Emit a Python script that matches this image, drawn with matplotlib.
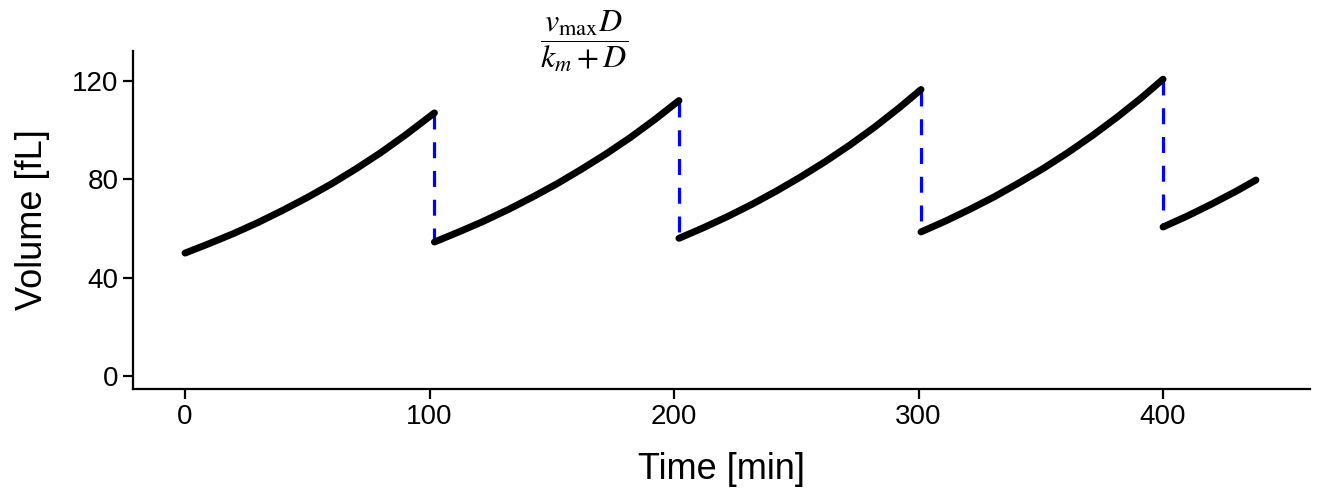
import numpy as np
import matplotlib.pyplot as plt

plt.rcParams['font.family'] = ['Liberation Sans', 'DejaVu Sans']
plt.rcParams['mathtext.fontset'] = 'stix'

# volume trajectory, one list per cell cycle
seg_times = [
    [0, 10, 20, 30, 40, 50, 60, 70, 80, 90, 102],
    [102, 112, 122, 132, 142, 152, 162, 172, 182, 192, 202],
    [202, 212, 222, 232, 242, 252, 262, 272, 282, 292, 301],
    [301, 311, 321, 331, 341, 351, 361, 371, 381, 391, 400],
    [400, 410, 420, 430, 438],
]
seg_volumes = [
    [50.0, 53.9, 58.0, 62.5, 67.4, 72.6, 78.2, 84.3, 90.8, 97.9, 107.0],
    [54.5, 58.6, 62.9, 67.6, 72.7, 78.1, 84.0, 90.2, 96.9, 104.2, 112.0],
    [56.0, 60.3, 64.9, 69.9, 75.3, 81.1, 87.3, 94.0, 101.2, 109.0, 116.5],
    [58.6, 63.0, 67.8, 72.9, 78.5, 84.4, 90.8, 97.7, 105.1, 113.0, 120.7],
    [60.6, 65.1, 70.0, 75.2, 79.7],
]
yticks = [0, 40, 80, 120]
xticks = [0, 100, 200, 300, 400]
title_x = 163


def main():
    fig = plt.figure(figsize=(13.19, 5.04), dpi=100)
    ax = fig.add_axes([0.1008, 0.228, 0.8922, 0.671])

    for t, v in zip(seg_times, seg_volumes):
        ax.plot(t, v, color='black', lw=5, solid_capstyle='round',
                solid_joinstyle='round', zorder=3)

    # division events: drop from end of one cycle to start of next
    for i in range(len(seg_times) - 1):
        td = seg_times[i][-1]
        ax.plot([td, td], [seg_volumes[i][-1], seg_volumes[i + 1][0]],
                color='blue', lw=2.3, dashes=(5, 4), zorder=2)

    ax.set_xlim(-21.3, 460)
    ax.set_ylim(-5.3, 132.2)
    ax.set_xticks(xticks)
    ax.set_yticks(yticks)

    for side in ['top', 'right']:
        ax.spines[side].set_visible(False)
    for side in ['left', 'bottom']:
        ax.spines[side].set_linewidth(1.6)
    ax.tick_params(axis='both', length=7, width=1.6, labelsize=20, colors='black')

    ax.set_xlabel('Time [min]', fontsize=26, labelpad=16)
    ax.set_ylabel('Volume [fL]', fontsize=26, labelpad=16)

    ax.text(title_x, 136, r'$\dfrac{v_{\max}D}{k_m+D}$', fontsize=23,
            ha='center', va='center', clip_on=False)

    fig.savefig('out.png', dpi=100)


if __name__ == '__main__':
    main()
